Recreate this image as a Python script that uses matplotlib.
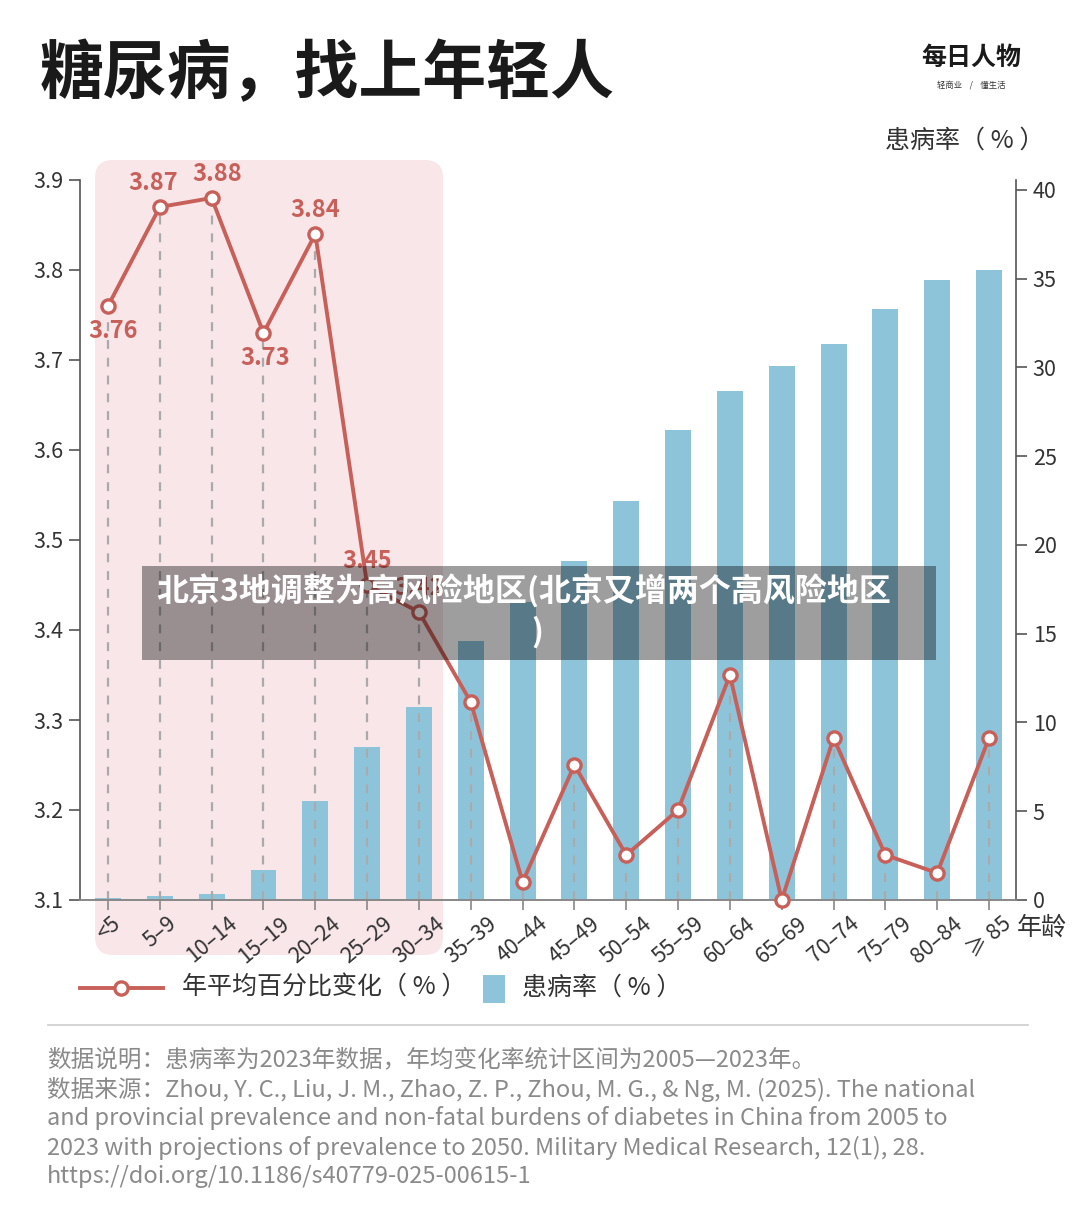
import matplotlib
matplotlib.use('Agg')
import matplotlib.pyplot as plt
from matplotlib.patches import FancyBboxPatch, Rectangle
from matplotlib.lines import Line2D

plt.rcParams['font.family'] = ['Noto Sans CJK SC', 'DejaVu Sans']

# ---------------- data ----------------
age_groups = ['<5', '5–9', '10–14', '15–19', '20–24', '25–29', '30–34', '35–39',
              '40–44', '45–49', '50–54', '55–59', '60–64', '65–69', '70–74',
              '75–79', '80–84', '≥ 85']
annual_change = [3.76, 3.87, 3.88, 3.73, 3.84, 3.45, 3.42, 3.32, 3.12, 3.25,
                 3.15, 3.20, 3.35, 3.10, 3.28, 3.15, 3.13, 3.28]
prevalence = [0.1, 0.2, 0.35, 1.7, 5.6, 8.6, 10.9, 14.6, 16.8, 19.1,
              22.5, 26.5, 28.7, 30.1, 31.3, 33.3, 34.9, 35.5]
labeled_count = 7
labels_below = [0, 3]
left_ticks = [3.1, 3.2, 3.3, 3.4, 3.5, 3.6, 3.7, 3.8, 3.9]
right_ticks = [0, 5, 10, 15, 20, 25, 30, 35, 40]

title = '糖尿病，找上年轻人'
legend_line = '年平均百分比变化（ % ）'
legend_bar = '患病率（ % ）'
right_label = '患病率（ % ）'
x_unit = '年龄'
overlay_line1 = '北京3地调整为高风险地区(北京又增两个高风险地区'
overlay_line2 = ')'
notes = [
    '数据说明：患病率为2023年数据，年均变化率统计区间为2005—2023年。',
    '数据来源：Zhou, Y. C., Liu, J. M., Zhao, Z. P., Zhou, M. G., & Ng, M. (2025). The national',
    'and provincial prevalence and non-fatal burdens of diabetes in China from 2005 to',
    '2023 with projections of prevalence to 2050. Military Medical Research, 12(1), 28.',
    'https://doi.org/10.1186/s40779-025-00615-1',
]

# ---------------- style ----------------
LINE_C = '#c8605a'
BAR_C = '#8ec4da'
PINK = '#f8e6e9'
TXT = '#333333'
GRAY = '#8a8a8a'

W, H = 1080, 1227
fig = plt.figure(figsize=(W / 100, H / 100), dpi=100)
fig.patch.set_facecolor('white')


def fx(px):
    return px / W


def fy(py):
    return 1 - py / H


# pink highlight region
fig.patches.append(FancyBboxPatch((0.95, (H - 955) / 100), 3.48, 7.95,
                                  boxstyle='round,pad=0,rounding_size=0.18',
                                  transform=fig.dpi_scale_trans, fc=PINK, ec='none', zorder=-5))

ax = fig.add_axes([fx(80), fy(900), fx(1016) - fx(80), (900 - 180) / H])
ax2 = ax.twinx()
ax.set_zorder(ax2.get_zorder() + 1)
ax.patch.set_visible(False)
ax2.patch.set_visible(False)

x = list(range(len(age_groups)))
ax2.bar(x, prevalence, width=0.5, color=BAR_C, zorder=1)
ax2.set_ylim(0, 40.56)
ax2.set_yticks(right_ticks)
ax2.tick_params(axis='y', direction='out', length=8, width=1.2, colors='#555555',
                labelcolor=TXT, labelsize=15.5, pad=4)

ax.set_ylim(3.1, 3.9)
ax.set_xlim(-0.54, len(age_groups) - 0.48)
ax.set_yticks(left_ticks)
ax.set_yticklabels([f'{v:.1f}' for v in left_ticks])
ax.tick_params(axis='y', direction='out', length=8, width=1.2, colors='#555555',
               labelcolor=TXT, labelsize=15.5, pad=4)

# dashed droplines
for xi, v in zip(x, annual_change):
    ax.plot([xi, xi], [3.1, v], color='#aaaaaa', lw=1.6, ls=(0, (4, 4)), zorder=2)

ax.plot(x, annual_change, color=LINE_C, lw=2.8, marker='o', ms=9.5, mfc='white',
        mec=LINE_C, mew=2.4, zorder=4, clip_on=False)

label_dx = [4, -5, 4, 1, 0, 0, 0]
for i in range(labeled_count):
    v = annual_change[i]
    dy = -18 if i in labels_below else 17
    ax.annotate(f'{v:.2f}', (i, v), xytext=(label_dx[i], dy), textcoords='offset points',
                ha='center', va='center', color=LINE_C, fontsize=17, fontweight='semibold', zorder=5)

ax.set_xticks(x)
ax.set_xticklabels(age_groups, rotation=40, ha='center')
ax.tick_params(axis='x', direction='out', length=7, width=1.2, colors='#888888',
               labelcolor=TXT, labelsize=15.5, pad=2)

for s in ['top', 'right']:
    ax.spines[s].set_visible(False)
for s in ['top', 'left', 'bottom']:
    ax2.spines[s].set_visible(False)
ax.spines['left'].set_color('#555555')
ax.spines['left'].set_linewidth(1.2)
ax.spines['bottom'].set_color('#888888')
ax.spines['bottom'].set_linewidth(1.4)
ax2.spines['right'].set_color('#555555')
ax2.spines['right'].set_linewidth(1.2)

# texts
fig.text(fx(40), fy(74), title, fontsize=46, fontweight='bold', color='#1a1a1a', va='center', ha='left')
fig.text(fx(971), fy(58), '每日人物', fontsize=18, fontweight='bold', color='#1a1a1a', va='center', ha='center')
fig.text(fx(971), fy(85), '轻商业    /    懂生活', fontsize=6, color='#333333', va='center', ha='center')
fig.text(fx(1044), fy(141), right_label, fontsize=18, color=TXT, va='center', ha='right')
fig.text(fx(1042), fy(928), x_unit, fontsize=18, color=TXT, va='center', ha='center')

# legend
fig.add_artist(Line2D([fx(80), fx(163)], [fy(988), fy(988)], color=LINE_C, lw=2.8,
                      transform=fig.transFigure))
fig.add_artist(Line2D([fx(121)], [fy(988)], marker='o', ms=9.5, mfc='white', mec=LINE_C,
                      mew=2.4, transform=fig.transFigure))
fig.text(fx(182), fy(988), legend_line, fontsize=18, color=TXT, va='center', ha='left')
fig.patches.append(Rectangle((fx(483), fy(1003)), fx(505) - fx(483), (1003 - 975) / H,
                             transform=fig.transFigure, fc=BAR_C, ec='none'))
fig.text(fx(522), fy(988), legend_bar, fontsize=18, color=TXT, va='center', ha='left')

# divider
fig.add_artist(Line2D([fx(48), fx(1028)], [fy(1025), fy(1025)], color='#cccccc', lw=1.2,
                      transform=fig.transFigure))

for k, line in enumerate(notes):
    fig.text(fx(47), fy(1060 + 29.2 * k), line, fontsize=17, color=GRAY, va='center', ha='left')

# overlay banner
fig.patches.append(Rectangle((fx(142), fy(660)), fx(936) - fx(142), (660 - 566) / H,
                             transform=fig.transFigure, fc='black', alpha=0.38, ec='none', zorder=20))
fig.text(fx(156), fy(592), overlay_line1, fontsize=23, fontweight='bold', color='white',
         va='center', ha='left', zorder=21)
fig.text(fx(537), fy(632), overlay_line2, fontsize=23, fontweight='bold', color='white',
         va='center', ha='center', zorder=21)

fig.savefig('out.png', dpi=100)
